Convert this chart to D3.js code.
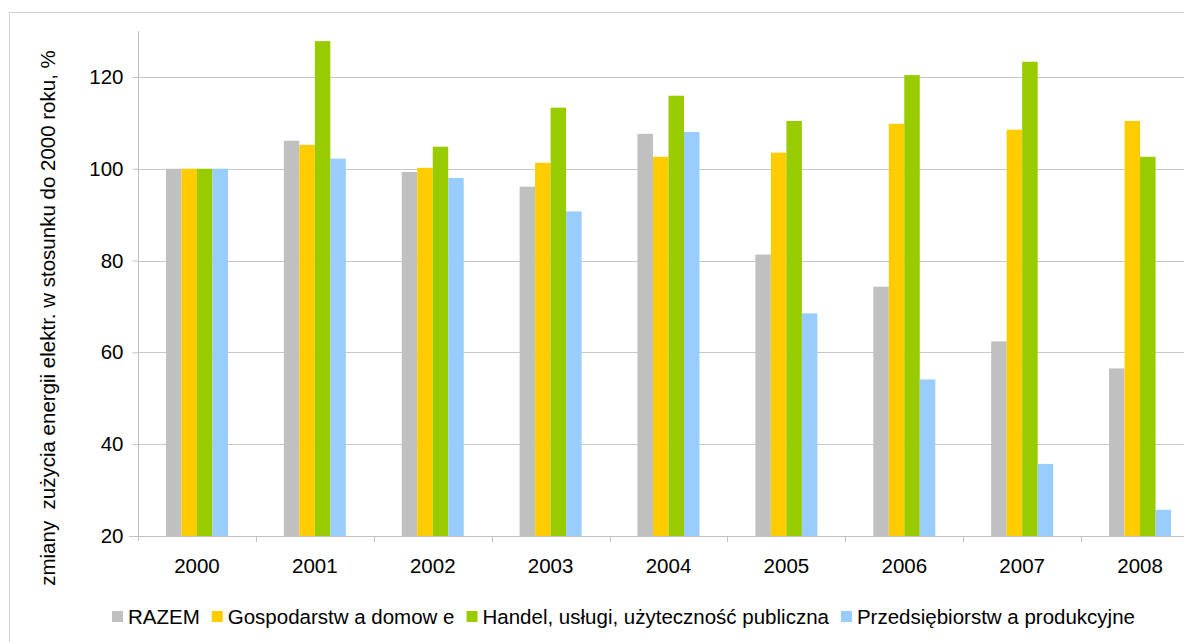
<!DOCTYPE html>
<html><head><meta charset="utf-8">
<script src="https://cdn.jsdelivr.net/npm/d3@7"></script>
<style>
html,body{margin:0;padding:0;background:#fff;overflow:hidden}
svg{display:block;font-family:"Liberation Sans",Arial,sans-serif}
</style></head>
<body>
<svg id="c" width="1184" height="642"></svg>
<script>
const years = ["2000","2001","2002","2003","2004","2005","2006","2007","2008"];
const seriesNames = ["RAZEM","Gospodarstw a domow e","Handel, usługi, użyteczność publiczna","Przedsiębiorstw a produkcyjne"];
const seriesColors = ["#c0c0c0","#ffcc00","#99cc00","#99ccff"];
const razem      = [100, 106.1, 99.3, 96.1, 107.6, 81.3, 74.3, 62.4, 56.5];
const gospodarstwa = [100, 105.2, 100.2, 101.3, 102.6, 103.5, 109.8, 108.5, 110.4];
const handel     = [100, 127.8, 104.8, 113.3, 115.9, 110.4, 120.4, 123.3, 102.6];
const przedsieb  = [100, 102.2, 98.0, 90.7, 108.0, 68.5, 54.1, 35.7, 25.7];
const yTicks = [20, 40, 60, 80, 100, 120];
const yLabel = "zmiany  zużycia energii elektr. w stosunku do 2000 roku, %";

const series = [razem, gospodarstwa, handel, przedsieb];
const svg = d3.select("#c");
const pL = 138, pR = 1199, pT = 31, pB = 536;
const FS = 20.5;

// outer frame
svg.append("rect").attr("x",9.5).attr("y",12.5).attr("width",1260).attr("height",700)
  .attr("fill","none").attr("stroke","#d0d0d0").attr("stroke-width",1);

const x = d3.scaleBand().domain(years).range([pL, pR]).paddingInner(0).paddingOuter(0);
const y = d3.scaleLinear().domain([20, 130]).range([pB, pT]);
const xs = d3.scaleBand().domain(d3.range(4)).range([0, 62]);
const groupOffset = (x.bandwidth() - 62) / 2;

// gridlines
svg.append("g").selectAll("line").data(yTicks.slice(1)).join("line")
  .attr("x1", pL).attr("x2", pR)
  .attr("y1", d => Math.round(y(d)) + 0.5).attr("y2", d => Math.round(y(d)) + 0.5)
  .attr("stroke", "#c8c8c8").attr("stroke-width", 1.2);

// bars
const g = svg.append("g");
years.forEach((yr, i) => {
  series.forEach((s, k) => {
    g.append("rect")
      .attr("x", x(yr) + groupOffset + xs(k))
      .attr("width", xs.bandwidth())
      .attr("y", y(s[i]))
      .attr("height", y(20) - y(s[i]))
      .attr("fill", seriesColors[k]);
  });
});

// y axis
const yAxis = svg.append("g").attr("transform", `translate(${pL + 0.5},0)`)
  .call(d3.axisLeft(y).tickValues(yTicks).tickSize(6).tickPadding(9).tickFormat(d3.format("d")));
yAxis.select(".domain").attr("stroke", "#c0c0c0").attr("d", `M0,${pT}V${pB + 5}`);
yAxis.selectAll(".tick line").attr("stroke", "#c0c0c0");
yAxis.selectAll(".tick text").attr("font-size", FS).attr("fill", "#000")
  .attr("font-family", "'Liberation Sans',Arial,sans-serif");

// x axis
const xAxis = svg.append("g").attr("transform", `translate(0,${pB + 0.5})`)
  .call(d3.axisBottom(x).tickSize(0).tickPadding(22));
xAxis.select(".domain").attr("stroke", "#c0c0c0").attr("d", `M${pL - 9},0H${pR}`);
xAxis.selectAll(".tick text").attr("font-size", FS).attr("fill", "#000")
  .attr("font-family", "'Liberation Sans',Arial,sans-serif");
// boundary ticks
svg.append("g").selectAll("line").data(years.slice(1).concat(["end"])).join("line")
  .attr("x1", d => d === "end" ? pR : Math.round(x(d)) + 0.5)
  .attr("x2", d => d === "end" ? pR : Math.round(x(d)) + 0.5)
  .attr("y1", pB).attr("y2", pB + 6)
  .attr("stroke", "#c0c0c0");

// y label
svg.append("text").attr("transform", "translate(55,318) rotate(-90)")
  .attr("text-anchor", "middle").attr("font-size", FS).attr("fill", "#000")
  .style("white-space", "pre")
  .text(yLabel);

// legend
const lg = svg.append("g").attr("transform", "translate(112,617)");
let cx = 0;
seriesNames.forEach((n, k) => {
  lg.append("rect").attr("x", cx).attr("y", -6).attr("width", 11).attr("height", 11).attr("fill", seriesColors[k]);
  const t = lg.append("text").attr("x", cx + 16).attr("y", 7).attr("font-size", FS).attr("fill", "#000")
    .style("white-space", "pre").text(n);
  cx += 16 + t.node().getComputedTextLength() + 12;
});
</script>
</body></html>
